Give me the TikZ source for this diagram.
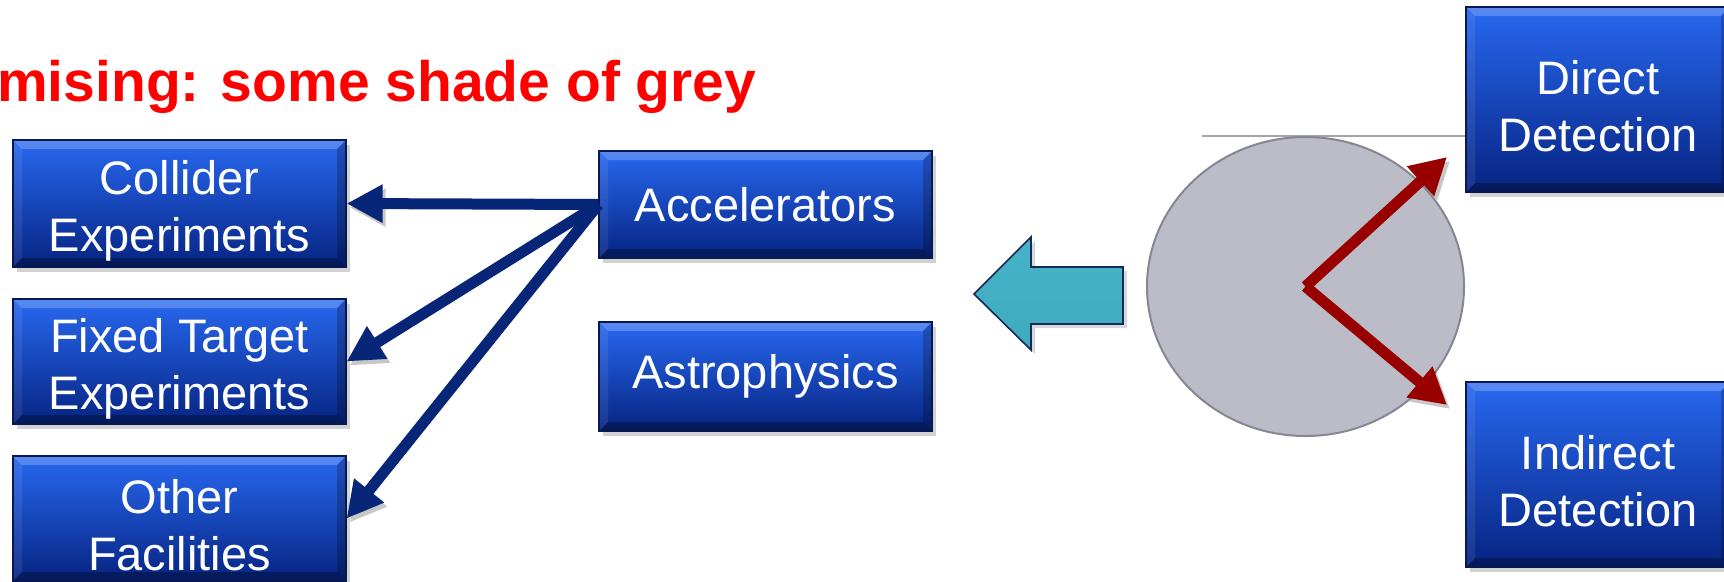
\documentclass[tikz,border=0pt]{standalone}
\usepackage{fontspec}
\setmainfont{Liberation Sans}
\usetikzlibrary{shadows,arrows.meta,shapes.geometric}
\definecolor{boxtop}{RGB}{40,104,240}
\definecolor{boxbot}{RGB}{6,36,130}
\definecolor{boxedge}{RGB}{10,24,80}
\definecolor{navy}{RGB}{8,38,120}
\definecolor{darkred}{RGB}{152,0,0}
\definecolor{disc}{RGB}{188,188,200}
\definecolor{discedge}{RGB}{135,135,145}
\definecolor{cyanA}{RGB}{70,180,198}
\definecolor{cyanM}{RGB}{128,222,236}
\definecolor{cyanB}{RGB}{62,170,190}
\definecolor{cyanedge}{RGB}{20,40,90}
\definecolor{titlered}{RGB}{255,0,0}
\newcommand\myup{\rule{0pt}{48pt}}
\tikzset{
  bevel/.style={path picture={
    \fill[white,opacity=0.22] (path picture bounding box.north west) -- (path picture bounding box.north east)
       -- ([xshift=-9pt,yshift=-9pt]path picture bounding box.north east) -- ([xshift=9pt,yshift=-9pt]path picture bounding box.north west) -- cycle;
    \fill[black,opacity=0.3] (path picture bounding box.south west) -- (path picture bounding box.south east)
       -- ([xshift=-9pt,yshift=9pt]path picture bounding box.south east) -- ([xshift=9pt,yshift=9pt]path picture bounding box.south west) -- cycle;
    \fill[black,opacity=0.22] (path picture bounding box.north east) -- (path picture bounding box.south east)
       -- ([xshift=-9pt,yshift=9pt]path picture bounding box.south east) -- ([xshift=-9pt,yshift=-9pt]path picture bounding box.north east) -- cycle;
    \fill[white,opacity=0.08] (path picture bounding box.north west) -- (path picture bounding box.south west)
       -- ([xshift=9pt,yshift=9pt]path picture bounding box.south west) -- ([xshift=9pt,yshift=-9pt]path picture bounding box.north west) -- cycle;
  }},
  bluebox/.style={rectangle, draw=boxedge, line width=1.2pt, top color=boxtop, bottom color=boxbot,
    text=white, font=\fontsize{47}{57}\selectfont, align=center, inner sep=0pt, minimum width=333pt,
    drop shadow={opacity=0.35,shadow xshift=4pt,shadow yshift=-5pt}, bevel},
  arrowshadow/.style={preaction={draw=black,opacity=0.22,transform canvas={xshift=3pt,yshift=-4pt}}},
  bluearrow/.style={draw=navy, line width=11pt, -{Triangle[length=36pt,width=36pt]}, arrowshadow},
  redarrow/.style={draw=darkred, line width=11pt, -{Triangle[length=36pt,width=38pt]}, arrowshadow},
  thinline/.style={draw={rgb,255:red,165;green,165;blue,165}, line width=1.2pt},
}
\begin{document}
\begin{tikzpicture}[x=1pt,y=-1pt]
\useasboundingbox[fill=white] (0,0) rectangle (1724,581);

\node[anchor=base west, text=titlered, font=\bfseries\fontsize{57}{60}\selectfont, inner sep=0pt] (title) at (-3,101) {mising: some shade of grey};

% left column
\node[bluebox, minimum height=127pt] (coll) at (179.5,203.5) {\myup Collider\\Experiments};
\node[bluebox, minimum height=125pt] (fixed) at (179.5,361.5) {\myup Fixed Target\\Experiments};
\node[bluebox, minimum height=125pt] (other) at (179.5,518.5) {\myup Other\\Facilities};

% middle column
\node[bluebox, minimum height=107pt] (accel) at (765.5,204.5) {Accelerators};
\node[bluebox, minimum height=109pt] (astro) at (765.5,376.5) {Astrophysics};

\draw[bluearrow] (accel.west) -- (coll.east);
\draw[bluearrow] (accel.west) -- (fixed.east);
\draw[bluearrow] (accel.west) -- (other.east);

% cyan arrow
\path[draw=cyanedge, line width=1.6pt, top color=cyanA, middle color=cyanM, bottom color=cyanB,
      drop shadow={opacity=0.3,shadow xshift=4pt,shadow yshift=-4pt}]
  (974,294) -- (1031,237) -- (1031,267) -- (1123,267) -- (1123,324) -- (1031,324) -- (1031,350) -- cycle;

% right column
\node[bluebox, minimum width=264pt, minimum height=185pt] (direct) at (1598,99.5) {\myup Direct\\Detection};
\node[bluebox, minimum width=264pt, minimum height=185pt] (indirect) at (1598,474.5) {\myup Indirect\\Detection};

\coordinate (lstart) at (1202,136);
\draw[thinline] (lstart) -- (lstart -| direct.west);

\node[ellipse, draw=discedge, line width=2pt, fill=disc, minimum width=317pt, minimum height=299pt, inner sep=0pt] (circ) at (1305.5,286.5) {};

\coordinate (tipD) at (1447,157);
\coordinate (tipI) at (1447,405);
\draw[redarrow] (circ.center) -- (tipD);
\draw[redarrow] (circ.center) -- (tipI);
\end{tikzpicture}
\end{document}
